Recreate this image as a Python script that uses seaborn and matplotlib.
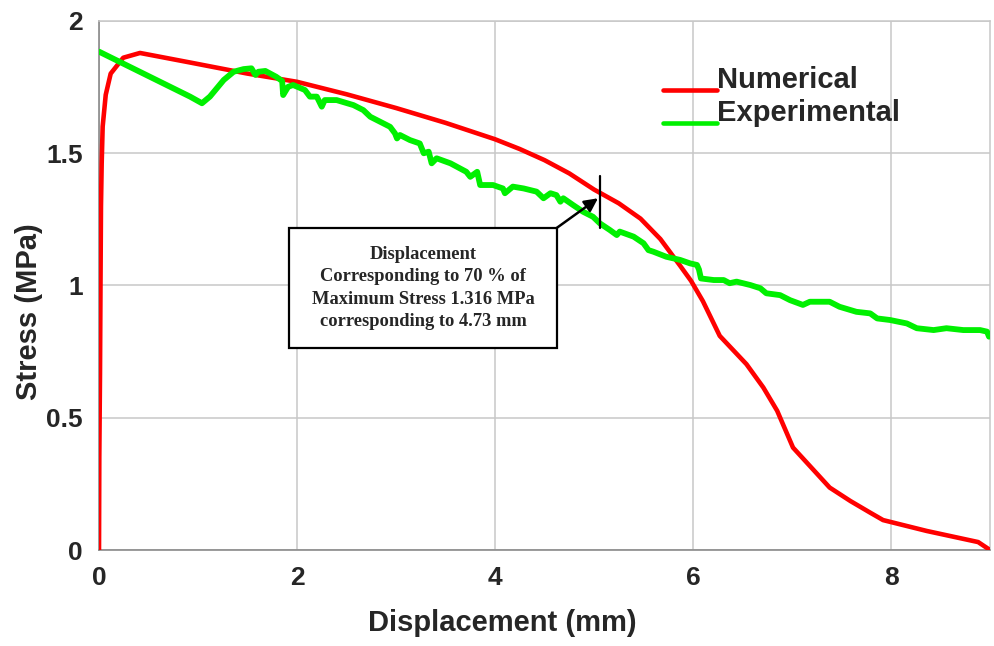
import matplotlib
matplotlib.use("Agg")
import matplotlib.pyplot as plt
from matplotlib.patches import Rectangle
import numpy as np
import pandas as pd
import seaborn as sns

# Numerical model: stress-displacement response
num_disp = [0.0, 0.003, 0.01, 0.015, 0.02, 0.027, 0.037, 0.068, 0.118, 0.245,
            0.414, 0.919, 1.5, 2.0, 2.5, 3.0, 3.5, 4.0, 4.25, 4.5, 4.75, 5.0,
            5.25, 5.47, 5.67, 5.87, 5.98, 6.10, 6.27, 6.54, 6.71, 6.85, 7.01,
            7.38, 7.59, 7.79, 7.92, 8.36, 8.88, 9.0]
num_stress = [0.0, 0.35, 0.665, 1.0, 1.30, 1.46, 1.60, 1.72, 1.80, 1.86, 1.878,
              1.842, 1.80, 1.769, 1.722, 1.670, 1.614, 1.552, 1.515, 1.473,
              1.423, 1.362, 1.310, 1.252, 1.175, 1.074, 1.017, 0.94, 0.809,
              0.702, 0.614, 0.526, 0.387, 0.236, 0.185, 0.141, 0.113, 0.072,
              0.03, 0.0]

# Experimental test record
exp_disp = [0.0, 0.92, 1.04, 1.12, 1.26, 1.36, 1.46, 1.54, 1.58, 1.61, 1.68,
            1.79, 1.85, 1.86, 1.91, 1.96, 2.08, 2.13, 2.20, 2.25, 2.28, 2.40,
            2.57, 2.67, 2.74, 2.84, 2.94, 2.99, 3.01, 3.04, 3.14, 3.24, 3.28,
            3.33, 3.36, 3.41, 3.55, 3.71, 3.75, 3.82, 3.85, 3.98, 4.08, 4.10,
            4.18, 4.29, 4.42, 4.49, 4.56, 4.62, 4.66, 4.69, 4.79, 4.89, 4.99,
            5.06, 5.16, 5.23, 5.26, 5.40, 5.50, 5.55, 5.60, 5.73, 5.87, 5.97,
            6.04, 6.06, 6.08, 6.21, 6.31, 6.37, 6.44, 6.58, 6.68, 6.74, 6.88,
            6.98, 7.11, 7.18, 7.38, 7.48, 7.65, 7.79, 7.86, 7.99, 8.16, 8.26,
            8.43, 8.56, 8.73, 8.90, 8.97, 8.99]
exp_stress = [1.883, 1.713, 1.688, 1.713, 1.776, 1.807, 1.817, 1.820, 1.795,
              1.807, 1.810, 1.788, 1.772, 1.719, 1.750, 1.757, 1.738, 1.713,
              1.713, 1.675, 1.700, 1.700, 1.681, 1.662, 1.637, 1.618, 1.599,
              1.574, 1.555, 1.568, 1.549, 1.536, 1.499, 1.505, 1.461, 1.480,
              1.461, 1.429, 1.410, 1.429, 1.379, 1.379, 1.366, 1.348, 1.373,
              1.366, 1.354, 1.329, 1.348, 1.341, 1.316, 1.329, 1.303, 1.278,
              1.259, 1.234, 1.209, 1.190, 1.203, 1.184, 1.159, 1.133, 1.127,
              1.108, 1.096, 1.083, 1.077, 1.060, 1.026, 1.020, 1.020, 1.008,
              1.014, 1.001, 0.989, 0.970, 0.963, 0.944, 0.926, 0.938, 0.938,
              0.919, 0.900, 0.894, 0.875, 0.869, 0.856, 0.838, 0.831, 0.838,
              0.831, 0.831, 0.825, 0.806]

x_ticks = [0, 2, 4, 6, 8]
y_ticks = [0, 0.5, 1, 1.5, 2]
y_tick_labels = ["0", "0.5", "1", "1.5", "2"]

max_stress_70 = 1.316
marker_disp = 5.06

sns.set_style("white")
plt.rcParams["font.family"] = ["Liberation Sans", "DejaVu Sans"]
plt.rcParams["font.weight"] = "bold"

df_num = pd.DataFrame({"disp": num_disp, "stress": num_stress})
df_exp = pd.DataFrame({"disp": exp_disp, "stress": exp_stress})

fig = plt.figure(figsize=(9.94, 6.46), dpi=100)
ax = fig.add_axes([0.0996, 0.1486, 0.8964, 0.8194])

sns.lineplot(data=df_num, x="disp", y="stress", sort=False, estimator=None,
             color="#ff0000", lw=3.3, label="Numerical", ax=ax, zorder=3)
sns.lineplot(data=df_exp, x="disp", y="stress", sort=False, estimator=None,
             color="#00f000", lw=4.2, label="Experimental", ax=ax, zorder=4)

ax.set_xlim(0, 9)
ax.set_ylim(0, 2)
ax.set_xticks(x_ticks)
ax.set_xticklabels([str(t) for t in x_ticks])
ax.set_yticks(y_ticks)
ax.set_yticklabels(y_tick_labels)

ax.grid(True, color="#c8c8c8", lw=1.1)
ax.set_axisbelow(True)
for side in ["left", "bottom"]:
    ax.spines[side].set_color("#8a8a8a")
    ax.spines[side].set_linewidth(1.2)
for side in ["top", "right"]:
    ax.spines[side].set_color("#c8c8c8")
    ax.spines[side].set_linewidth(1.1)

ax.tick_params(axis="both", direction="inout", length=11, width=1.0,
               color="#555555", labelsize=19, pad=6)
for lab in ax.get_xticklabels() + ax.get_yticklabels():
    lab.set_fontweight("bold")

ax.set_xlabel("Displacement (mm)", fontsize=21, fontweight="bold")
ax.set_ylabel("Stress (MPa)", fontsize=21, fontweight="bold")
ax.xaxis.set_label_coords(0.453, -0.112)
ax.yaxis.set_label_coords(-0.063, 0.45)

leg = ax.legend(loc="upper left", bbox_to_anchor=(0.633, 0.914),
                frameon=False, handlelength=1.86,
                handletextpad=0.0, borderpad=0, borderaxespad=0,
                labelspacing=0.17, prop={"weight": "bold", "size": 21})
for ln in leg.get_lines():
    ln.set_linewidth(3.3)
    ln.set_ydata(np.full(len(ln.get_xdata()), -1.0))

# Annotation box
box = Rectangle((1.92, 0.763), 2.71, 0.453, facecolor="white",
                edgecolor="black", lw=1.6, zorder=6)
ax.add_patch(box)
ax.text(3.273, 0.99,
        "Displacement\nCorresponding to 70 % of\n"
        f"Maximum Stress {max_stress_70} MPa\ncorresponding to 4.73 mm",
        ha="center", va="center", fontsize=13.3, fontweight="bold",
        family=["Liberation Serif", "DejaVu Serif"], linespacing=1.4,
        zorder=7)
ax.annotate("", xy=(5.04, 1.329), xytext=(4.62, 1.216),
            arrowprops=dict(arrowstyle="-|>", color="black", lw=1.8,
                            mutation_scale=20, shrinkA=0, shrinkB=0),
            zorder=7)
ax.plot([marker_disp, marker_disp],
        [max_stress_70 - 0.098, max_stress_70 + 0.098],
        color="black", lw=1.6, zorder=7)

fig.savefig("out.png", dpi=100)
